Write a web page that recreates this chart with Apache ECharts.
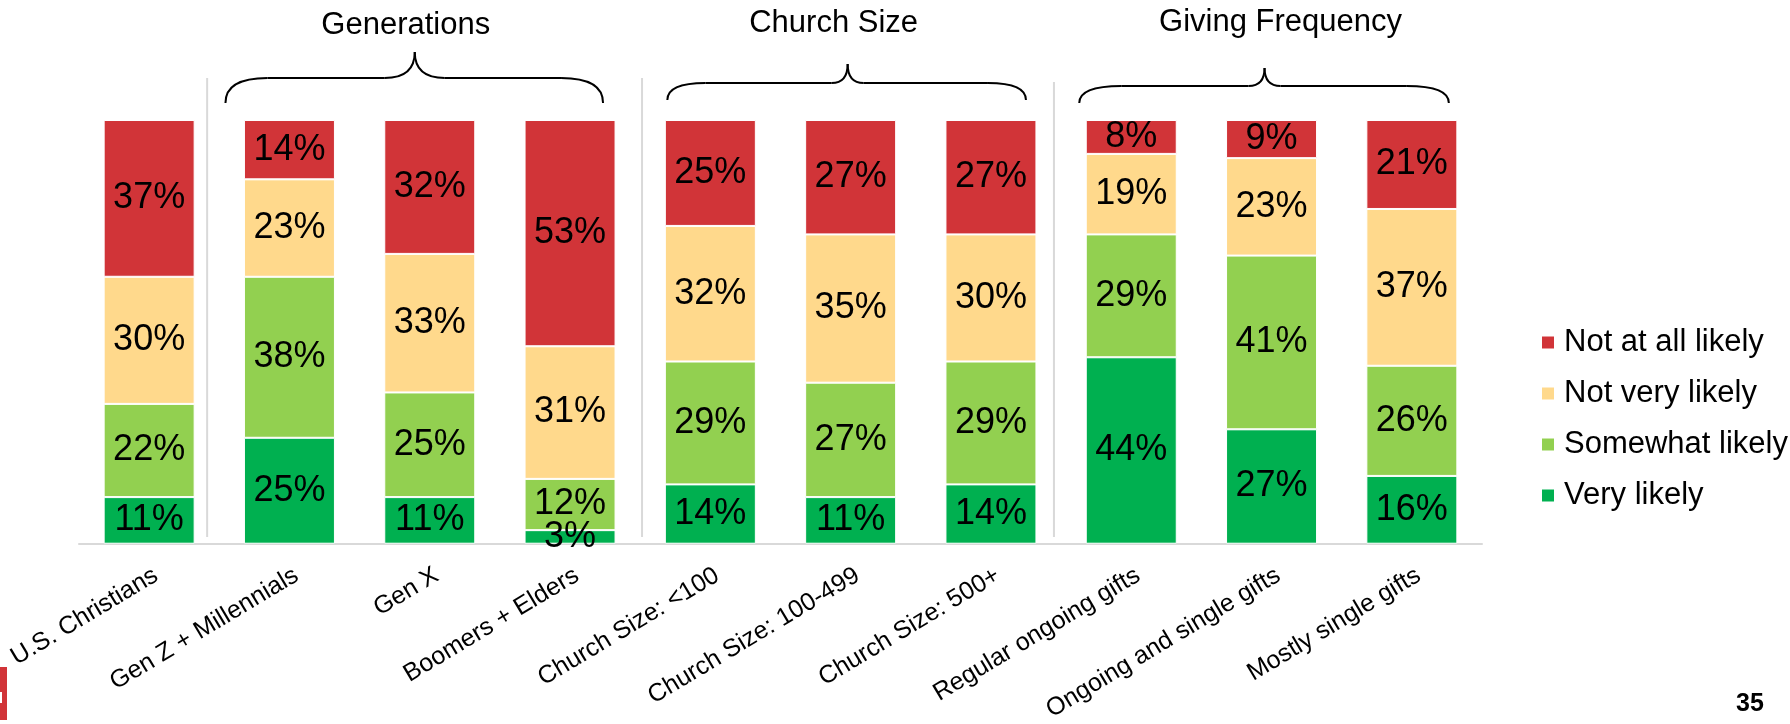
<!DOCTYPE html>
<html><head><meta charset="utf-8">
<script src="https://cdn.jsdelivr.net/npm/echarts@6/dist/echarts.min.js"></script>
<style>html,body{margin:0;padding:0;background:#fff}#c{width:1790px;height:724px}</style>
</head><body><div id="c"></div>
<script>
// ---- data ----
const categories = ['U.S. Christians', 'Gen Z + Millennials', 'Gen X', 'Boomers + Elders',
  'Church Size: <100', 'Church Size: 100-499', 'Church Size: 500+',
  'Regular ongoing gifts', 'Ongoing and single gifts', 'Mostly single gifts'];
const seriesNames = ['Very likely', 'Somewhat likely', 'Not very likely', 'Not at all likely'];
const veryLikely     = [11, 25, 11,   3.2,  14, 11, 14, 44, 27, 16];
const somewhatLikely = [22, 38, 24.7, 12.1, 29, 27, 29, 29, 41, 26];
const notVeryLikely  = [30, 23, 32.7, 31.3, 32, 35, 30, 19, 23, 37];
const notAtAllLikely = [37, 14, 31.6, 53.4, 25, 27, 27,  8,  9, 21];
const legendOrder = ['Not at all likely', 'Not very likely', 'Somewhat likely', 'Very likely'];
const groupTitles = ['Generations', 'Church Size', 'Giving Frequency'];
const pageNumber = '35';

// ---- style ----
const FONT = '"Liberation Sans", Arial, sans-serif';
const colors = ['#00B050', '#92D050', '#FFD98C', '#D13438'];
const valuesList = [veryLikely, somewhatLikely, notVeryLikely, notAtAllLikely];

const chart = echarts.init(document.getElementById('c'), null, {renderer: 'canvas'});

const series = seriesNames.map((name, i) => ({
  name, type: 'bar', stack: 'total', barWidth: 91,
  data: valuesList[i],
  itemStyle: {color: colors[i], borderColor: '#fff', borderWidth: 1},
  label: {show: true, position: 'inside', formatter: p => Math.round(p.value) + '%',
    fontSize: 36, color: '#000', fontFamily: FONT}
}));

chart.setOption({
  animation: false,
  backgroundColor: '#fff',
  grid: {left: 79, width: 1403, top: 120, bottom: 180},
  xAxis: {
    type: 'category', data: categories,
    axisLine: {lineStyle: {color: '#D9D9D9', width: 2}},
    axisTick: {show: false},
    axisLabel: {interval: 0, rotate: 31, margin: 34, fontSize: 25, color: '#000',
      fontFamily: FONT, padding: [0, -8, 0, 0]}
  },
  yAxis: {type: 'value', min: 0, max: 100, show: false},
  legend: {
    data: legendOrder, orient: 'vertical', left: 1535, top: 322,
    itemWidth: 14, itemHeight: 14, itemGap: 20, icon: 'rect',
    textStyle: {fontSize: 31, lineHeight: 31, color: '#000', fontFamily: FONT, padding: [0, 0, 0, 4]}
  },
  series
});

// ---- decorations positioned from the category axis ----
const px = i => chart.convertToPixel({xAxisIndex: 0}, categories[i]);
const groups = [
  {title: groupTitles[0], titleX: px(2) - 24, titleY: 25, x1: px(1) - 64, x2: px(3) + 33, xm: px(2) - 15,
    yTop: 78, yEnd: 103, yPeak: 52, rc: 42, rm: 30},
  {title: groupTitles[1], titleX: px(5) - 17, titleY: 23, x1: px(4) - 43, x2: px(6) + 35, xm: px(5) - 3,
    yTop: 83, yEnd: 100, yPeak: 64, rc: 38, rm: 16},
  {title: groupTitles[2], titleX: px(8) + 9, titleY: 22, x1: px(7) - 52, x2: px(9) + 37, xm: px(8) - 7,
    yTop: 86, yEnd: 103, yPeak: 68, rc: 42, rm: 16}
];
const seps = [{x: px(0) + 58, y1: 78}, {x: px(3) + 72, y1: 78}, {x: px(6) + 63, y1: 82}];

const graphics = [];
const braceStyle = {fill: null, stroke: '#000', lineWidth: 2};
const quad = (x1, y1, cx, cy, x2, y2) => ({type: 'bezierCurve',
  shape: {x1, y1, cpx1: cx, cpy1: cy, x2, y2}, style: braceStyle});
const seg = (x1, y1, x2, y2, style) => ({type: 'line', shape: {x1, y1, x2, y2}, style});
groups.forEach(g => {
  graphics.push(quad(g.x1, g.yEnd, g.x1, g.yTop, g.x1 + g.rc, g.yTop));
  graphics.push(seg(g.x1 + g.rc, g.yTop, g.xm - g.rm, g.yTop, braceStyle));
  graphics.push(quad(g.xm - g.rm, g.yTop, g.xm, g.yTop, g.xm, g.yPeak));
  graphics.push(quad(g.xm, g.yPeak, g.xm, g.yTop, g.xm + g.rm, g.yTop));
  graphics.push(seg(g.xm + g.rm, g.yTop, g.x2 - g.rc, g.yTop, braceStyle));
  graphics.push(quad(g.x2 - g.rc, g.yTop, g.x2, g.yTop, g.x2, g.yEnd));
  graphics.push({type: 'text', x: g.titleX, y: g.titleY,
    style: {text: g.title, fontSize: 31, fontFamily: FONT, fill: '#000', align: 'center', verticalAlign: 'middle'}});
});
seps.forEach(s => graphics.push(seg(s.x, s.y1, s.x, 537, {stroke: '#D9D9D9', lineWidth: 2})));
graphics.push({type: 'text', x: 1736, y: 704,
  style: {text: pageNumber, fontSize: 25, fontWeight: 'bold', fontFamily: FONT, fill: '#000', align: 'left', verticalAlign: 'middle'}});
graphics.push({type: 'rect', shape: {x: 0, y: 667, width: 7, height: 53}, style: {fill: '#D13438'}});
graphics.push({type: 'rect', shape: {x: 0, y: 692, width: 2, height: 11}, style: {fill: '#fff'}});
chart.setOption({graphic: graphics});
</script>
</body></html>
